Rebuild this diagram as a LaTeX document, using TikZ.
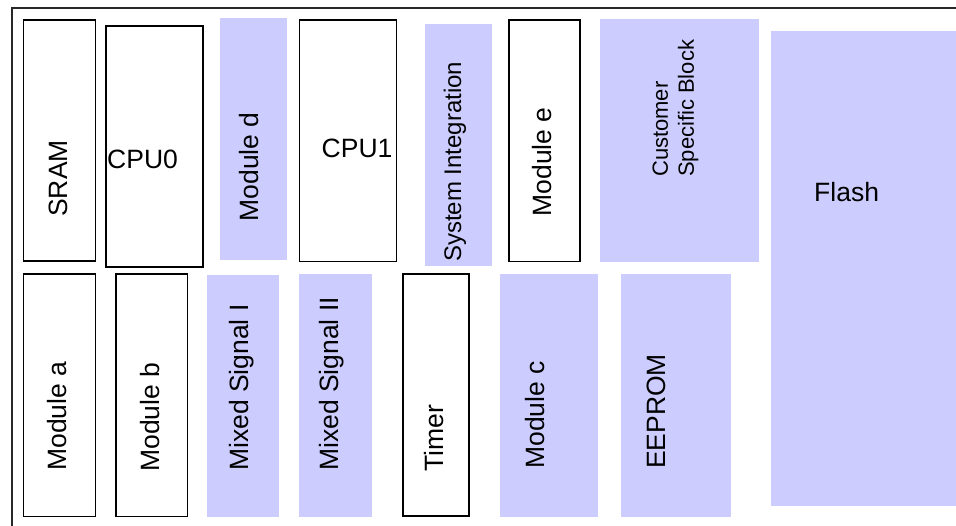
\documentclass[tikz,border=0pt]{standalone}
\usepackage{fontspec}
\setmainfont{Liberation Sans}
\definecolor{blockfill}{RGB}{204,204,255}
\definecolor{framegray}{RGB}{40,40,40}

% a block given by its corners (x1,y1) and (x2,y2), in bp, y downward
\newcommand\chipblock[6]{%
  \node[#2, minimum width={(#5-#3)*1bp}, minimum height={(#6-#4)*1bp}]
    (#1) at ({(#3+#5)/2},{(#4+#6)/2}) {};}

\begin{document}
\begin{tikzpicture}[x=1bp, y=-1bp,
  outlined/.style={draw=black, line width=1.6bp, fill=white, inner sep=0, outer sep=0},
  shaded/.style={fill=blockfill, draw=none, inner sep=0, outer sep=0},
  vlab/.style={rotate=90, anchor=west, inner sep=0, font=\fontsize{26.5bp}{30bp}\selectfont},
  hlab/.style={anchor=west, inner sep=0, font=\fontsize{26.5bp}{30bp}\selectfont}]
\useasboundingbox (0,0) rectangle (956,526);

\begin{scope}
  \clip (0,0) rectangle (956,526);
  % outer die frame, running off the right and bottom
  \draw[framegray, line width=2bp] (11.5,560) -- (11.5,8.5) -- (990,8.5);
  % flash array
  \chipblock{flash}{shaded}{771}{31}{990}{506}
\end{scope}

% upper row
\chipblock{sram}{outlined}{23.5}{20}{95.5}{261}
\chipblock{cpu0}{outlined}{106}{26}{203}{267}
\chipblock{modd}{shaded}{220}{18}{287}{260}
\chipblock{cpu1}{outlined}{299.5}{20}{396.5}{261.5}
\chipblock{sysint}{shaded}{425}{24}{492}{266.5}
\chipblock{mode}{outlined}{509}{20}{580}{261.5}
\chipblock{custom}{shaded}{600}{19}{759}{262}

% lower row
\chipblock{moda}{outlined}{23.5}{274}{95.5}{516.5}
\chipblock{modb}{outlined}{116}{274}{187.5}{516.5}
\chipblock{mixa}{shaded}{207}{275}{279}{517}
\chipblock{mixb}{shaded}{299}{274}{372}{517}
\chipblock{timer}{outlined}{403}{274}{469}{516}
\chipblock{modc}{shaded}{500}{274}{598}{517}
\chipblock{eeprom}{shaded}{620.5}{274}{731}{517}

% labels
\node[vlab] (sramT) at (58,217) {SRAM};
\node[hlab] (cpu0T) at (107,159) {CPU0};
\node[vlab] (moddT) at (249,221.5) {Module d};
\node[hlab] (cpu1T) at (321.5,148) {CPU1};
\node[vlab, font=\fontsize{24bp}{28bp}\selectfont] (sysintT) at (455,262) {System Integration};
\node[vlab] (modeT) at (542,216.5) {Module e};
\node[vlab, align=left, font=\fontsize{22bp}{26bp}\selectfont] (customT) at (675.5,177) {Customer\\Specific Block};
\node[hlab] (flashT) at (814,192) {Flash};

\node[vlab] (modaT) at (57.5,471) {Module a};
\node[vlab] (modbT) at (150,472) {Module b};
\node[vlab] (mixaT) at (241.5,471) {Mixed Signal I};
\node[vlab] (mixbT) at (332,471) {Mixed Signal II};
\node[vlab] (timerT) at (434,472) {Timer};
\node[vlab] (modcT) at (535.5,469) {Module c};
\node[vlab] (eepromT) at (656.5,469) {EEPROM};
\end{tikzpicture}
\end{document}
